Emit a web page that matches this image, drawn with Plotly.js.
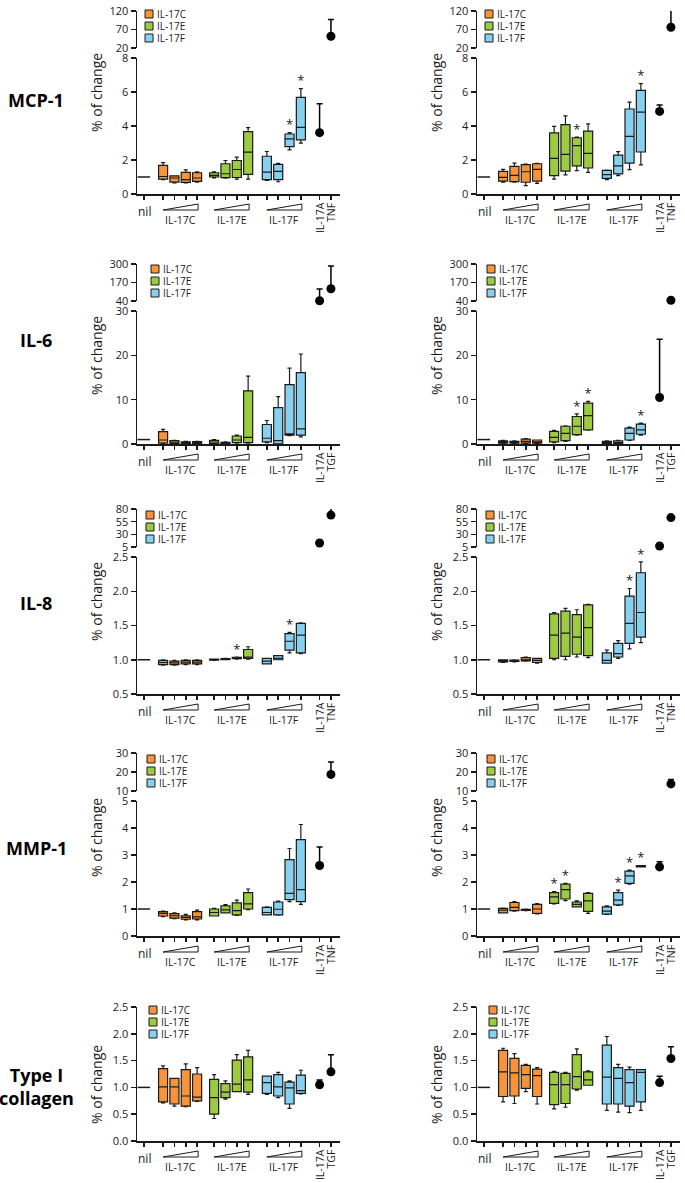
<!DOCTYPE html>
<html><head><meta charset="utf-8">
<script src="https://cdn.plot.ly/plotly-3.0.1.min.js"></script>
<style>html,body{margin:0;padding:0;background:#fff}#chart{width:685px;height:1183px}</style>
</head><body><div id="chart"></div>
<script>
// ================= DATA =================
const analytes = ['MCP-1', 'IL-6', 'IL-8', 'MMP-1', 'Type I<br>collagen'];
const stimuli = ['IL-17C', 'IL-17E', 'IL-17F'];
const nilLabel = 'nil';
const refLabels = [['IL-17A', 'TNF'], ['IL-17A', 'TGF'], ['IL-17A', 'TNF'], ['IL-17A', 'TNF'], ['IL-17A', 'TGF']];
const yTitle = '% of change';
const nilValue = 1;

// Box stats, 4 doses of IL-17C, then IL-17E, then IL-17F: [low whisker, Q1, median, Q3, high whisker]
const mcp1Left = [
  [0.85,0.88,1.03,1.68,1.85],[0.66,0.70,0.94,1.07,1.07],[0.66,0.68,0.84,1.27,1.42],[0.70,0.74,0.94,1.25,1.30],
  [0.95,1.00,1.10,1.25,1.30],[0.93,0.96,1.19,1.78,1.97],[0.88,0.97,1.44,1.97,2.17],[0.88,1.15,2.46,3.67,3.90],
  [0.80,0.84,1.29,2.22,2.50],[0.72,0.84,1.33,1.74,1.81],[2.60,2.79,3.24,3.53,3.61],[2.99,3.18,3.92,5.68,6.20]];
const mcp1Right = [
  [0.69,0.76,0.98,1.33,1.45],[0.69,0.73,1.10,1.63,1.82],[0.49,0.69,1.31,1.73,1.76],[0.63,0.76,1.45,1.78,1.80],
  [0.88,1.08,2.10,3.59,3.98],[1.12,1.35,2.33,4.08,4.59],[1.37,1.65,2.84,3.31,3.35],[1.27,1.53,2.39,3.70,4.12],
  [0.85,0.92,1.14,1.39,1.41],[1.08,1.18,1.66,2.29,2.49],[1.43,1.82,3.39,5.00,5.41],[1.71,2.47,4.82,6.09,6.49]];
const il6Left = [
  [0.10,0.20,0.90,2.80,3.30],[0.10,0.10,0.40,0.75,0.85],[0.05,0.10,0.35,0.50,0.60],[0.05,0.10,0.35,0.55,0.60],
  [0.05,0.10,0.45,0.80,1.00],[0.02,0.05,0.20,0.40,0.50],[0.20,0.30,0.90,1.80,2.00],[0.20,0.30,1.50,12.0,15.3],
  [0.30,0.50,1.30,4.40,5.30],[0.00,0.05,0.75,8.20,10.7],[1.90,2.00,2.30,13.4,17.1],[1.60,2.00,3.40,16.1,20.3]];
const il6Right = [
  [0.10,0.20,0.40,0.70,0.80],[0.10,0.20,0.40,0.60,0.70],[0.10,0.20,0.60,1.10,1.20],[0.10,0.20,0.50,0.90,0.90],
  [0.30,0.50,1.50,2.85,3.10],[0.60,0.75,2.40,4.00,4.10],[2.00,2.10,4.00,6.20,6.80],[3.10,3.20,6.40,9.20,9.60],
  [0.05,0.10,0.30,0.60,0.70],[0.05,0.10,0.30,0.70,0.80],[0.80,0.90,2.40,3.60,3.80],[2.00,2.20,3.20,4.50,4.70]];
const il8Left = [
  [0.92,0.93,0.960,0.99,1.00],[0.92,0.93,0.955,0.98,0.99],[0.93,0.94,0.965,0.99,1.00],[0.93,0.94,0.965,0.99,1.00],
  [0.99,0.995,1.000,1.010,1.01],[1.00,1.00,1.008,1.015,1.02],[1.01,1.015,1.025,1.035,1.04],[1.01,1.02,1.04,1.15,1.19],
  [0.94,0.94,0.98,1.02,1.02],[1.00,1.00,1.02,1.06,1.06],[1.10,1.14,1.27,1.38,1.40],[1.09,1.10,1.36,1.53,1.54]];
const il8Right = [
  [0.96,0.97,0.985,1.00,1.00],[0.97,0.975,0.985,0.995,1.00],[0.98,0.985,1.00,1.03,1.04],[0.95,0.96,0.99,1.02,1.02],
  [1.00,1.02,1.36,1.67,1.69],[1.00,1.05,1.39,1.71,1.75],[1.04,1.08,1.33,1.66,1.73],[1.03,1.06,1.47,1.80,1.81],
  [0.95,0.95,0.99,1.10,1.14],[1.02,1.04,1.09,1.24,1.28],[1.16,1.24,1.53,1.93,2.04],[1.25,1.33,1.69,2.27,2.43]];
const mmp1Left = [
  [0.72,0.74,0.84,0.90,0.92],[0.64,0.66,0.75,0.83,0.86],[0.60,0.62,0.69,0.75,0.80],[0.60,0.63,0.71,0.90,0.96],
  [0.74,0.74,0.87,1.00,1.02],[0.86,0.86,0.97,1.12,1.16],[0.76,0.78,0.94,1.23,1.33],[0.98,1.00,1.19,1.61,1.74],
  [0.78,0.78,0.87,1.06,1.08],[0.77,0.78,0.99,1.26,1.29],[1.27,1.35,1.58,2.83,3.24],[1.17,1.27,1.72,3.57,4.13]];
const mmp1Right = [
  [0.86,0.86,0.96,1.02,1.03],[0.92,0.94,1.06,1.24,1.27],[0.94,0.95,0.97,0.99,1.00],[0.82,0.84,1.00,1.17,1.20],
  [1.19,1.21,1.45,1.61,1.64],[1.31,1.37,1.72,1.92,1.95],[1.08,1.08,1.17,1.26,1.30],[0.84,0.91,1.30,1.58,1.61],
  [0.80,0.81,0.92,1.08,1.12],[1.13,1.15,1.33,1.61,1.70],[1.92,1.95,2.23,2.40,2.44],[2.56,2.56,2.58,2.61,2.61]];
const collagenLeft = [
  [0.71,0.73,1.01,1.35,1.40],[0.65,0.69,1.01,1.17,1.17],[0.64,0.65,0.84,1.33,1.44],[0.74,0.75,0.82,1.25,1.37],
  [0.42,0.50,0.81,1.15,1.24],[0.78,0.81,0.91,1.07,1.12],[0.92,0.92,1.06,1.51,1.61],[0.87,0.91,1.14,1.57,1.69],
  [0.87,0.89,1.09,1.21,1.21],[0.81,0.84,1.01,1.24,1.28],[0.61,0.69,0.99,1.10,1.12],[0.88,0.89,0.94,1.23,1.32]];
const collagenRight = [
  [0.73,0.83,1.29,1.69,1.73],[0.70,0.84,1.27,1.54,1.63],[0.92,0.98,1.24,1.41,1.43],[0.69,0.83,1.22,1.34,1.37],
  [0.60,0.68,1.05,1.28,1.30],[0.63,0.70,1.05,1.26,1.28],[0.95,0.97,1.20,1.61,1.72],[1.04,1.04,1.14,1.29,1.31],
  [0.57,0.69,1.19,1.79,1.95],[0.54,0.69,1.17,1.37,1.43],[0.53,0.65,1.09,1.33,1.38],[0.57,0.73,1.28,1.33,1.33]];

// Reference stimuli (IL-17A, TNF/TGF): [mean, top of error bar]
const mcp1LeftRef = [[3.61, 5.31], [51.8, 97]];
const mcp1RightRef = [[4.86, 5.24], [76, 128]];
const il6LeftRef = [[42, 124], [126, 286]];
const il6RightRef = [[10.5, 23.6], [45, 45]];
const il8LeftRef = [[13, 13], [68, 90]];
const il8RightRef = [[7, 7], [63, 63]];
const mmp1LeftRef = [[2.61, 3.3], [18.75, 25.2]];
const mmp1RightRef = [[2.56, 2.75], [13.75, 16]];
const collagenLeftRef = [[1.05, 1.14], [1.29, 1.61]];
const collagenRightRef = [[1.09, 1.21], [1.54, 1.76]];

// Boxes marked significant (*) — index 0..11
const mcp1LeftStars = [10, 11];
const mcp1RightStars = [6, 11];
const il6LeftStars = [];
const il6RightStars = [6, 7, 11];
const il8LeftStars = [6, 10];
const il8RightStars = [10, 11];
const mmp1LeftStars = [];
const mmp1RightStars = [4, 5, 9, 10, 11];
const collagenLeftStars = [];
const collagenRightStars = [];

// Axis scales per analyte (lower segment, upper broken segment)
const lowerRanges = [[0, 8], [0, 30], [0.5, 2.5], [0, 5], [0, 2.5]];
const lowerTicks = [[0, 2, 4, 6, 8], [0, 10, 20, 30], [0.5, 1.0, 1.5, 2.0, 2.5], [0, 1, 2, 3, 4, 5], [0, 0.5, 1.0, 1.5, 2.0, 2.5]];
const upperRanges = [[20, 120], [40, 300], [5, 80], [10, 30], null];
const upperTicks = [[20, 70, 120], [40, 170, 300], [5, 30, 55, 80], [10, 20, 30], null];

// ================= LAYOUT / STYLE =================
const W = 685, H = 1183;
const FONT = 'Open Sans, Noto Sans, DejaVu Sans, sans-serif';
const INK = '#1a1a1a';
const colors = ['#F7943A', '#9CCA40', '#88D0F0'];
const xMin = -0.6, xMax = 17.3;
const groupStart = [1.7, 6.2, 10.85];
const refPos = [15.5, 16.5];
const cols = [{ x0: 137, x1: 340 }, { x0: 477, x1: 680 }];
const rowGeom = [
  { axisY: 194, lowerTop: 58, upperTop: 11, upperBot: 48, fmt: '', labelY: 100, titleY: 93, legY: 14 },
  { axisY: 444, lowerTop: 311, upperTop: 264, upperBot: 301, fmt: '', labelY: 340, titleY: 356, legY: 269 },
  { axisY: 694, lowerTop: 557, upperTop: 509, upperBot: 547, fmt: '.1f', labelY: 603, titleY: 602, legY: 515 },
  { axisY: 936, lowerTop: 801, upperTop: 753, upperBot: 791, fmt: '', labelY: 848, titleY: 838, legY: 759 },
  { axisY: 1141, lowerTop: 1007, fmt: '.1f', labelY: 1086, titleY: 1085, legY: 1010 }
];
const legX = [[145, 485], [151, 487], [146, 486], [147, 487], [149, 489]];

const panelBoxes = [mcp1Left, mcp1Right, il6Left, il6Right, il8Left, il8Right, mmp1Left, mmp1Right, collagenLeft, collagenRight];
const panelRefs = [mcp1LeftRef, mcp1RightRef, il6LeftRef, il6RightRef, il8LeftRef, il8RightRef, mmp1LeftRef, mmp1RightRef, collagenLeftRef, collagenRightRef];
const panelStars = [mcp1LeftStars, mcp1RightStars, il6LeftStars, il6RightStars, il8LeftStars, il8RightStars, mmp1LeftStars, mmp1RightStars, collagenLeftStars, collagenRightStars];

const boxX = i => groupStart[Math.floor(i / 4)] + (i % 4);
const allTicks = [0].concat([...Array(12).keys()].map(boxX)).concat(refPos);
const px = x => x / W, py = y => 1 - y / H;
const id = (l, n) => n === 1 ? l : l + n;

const traces = [], shapes = [], annotations = [];
const layout = {
  width: W, height: H, margin: { l: 0, r: 0, t: 0, b: 0 },
  paper_bgcolor: '#fff', plot_bgcolor: 'rgba(0,0,0,0)', showlegend: false,
  font: { family: FONT, color: INK, size: 11 }, boxmode: 'overlay',
  shapes, annotations
};
const axisCommon = {
  showline: true, linewidth: 1.5, linecolor: INK, ticks: 'outside', tickwidth: 1.5, tickcolor: INK,
  showgrid: false, zeroline: false, fixedrange: true, tickfont: { family: FONT, size: 11, color: INK }
};

panelBoxes.forEach((boxes, p) => {
  const r = Math.floor(p / 2), c = p % 2;
  const G = rowGeom[r], C = cols[c];
  const xs = id('x', p + 1), yLo = id('y', 2 * p + 1), yUp = id('y', 2 * p + 2);
  const toPx = x => C.x0 + (x - xMin) / (xMax - xMin) * (C.x1 - C.x0);
  layout[id('xaxis', p + 1)] = Object.assign({}, axisCommon, {
    domain: [px(C.x0), px(C.x1)], range: [xMin, xMax], anchor: yLo,
    tickvals: allTicks, showticklabels: false, ticklen: 4
  });
  layout[id('yaxis', 2 * p + 1)] = Object.assign({}, axisCommon, {
    domain: [py(G.axisY), py(G.lowerTop)], range: lowerRanges[r], anchor: xs,
    tickvals: lowerTicks[r], tickformat: G.fmt, ticklen: 5
  });
  if (upperRanges[r]) {
    layout[id('yaxis', 2 * p + 2)] = Object.assign({}, axisCommon, {
      domain: [py(G.upperBot), py(G.upperTop)], range: upperRanges[r], anchor: xs,
      tickvals: upperTicks[r], ticklen: 5
    });
  }
  // boxes
  stimuli.forEach((s, si) => {
    const rowsS = boxes.slice(si * 4, si * 4 + 4);
    traces.push({
      type: 'box', name: s, xaxis: xs, yaxis: yLo,
      x: [0, 1, 2, 3].map(k => boxX(si * 4 + k)),
      lowerfence: rowsS.map(b => b[0]), q1: rowsS.map(b => b[1]), median: rowsS.map(b => b[2]),
      q3: rowsS.map(b => b[3]), upperfence: rowsS.map(b => b[4]),
      width: 0.8, whiskerwidth: 0.45, boxpoints: false,
      fillcolor: colors[si], line: { color: INK, width: 1.2 }, hoverinfo: 'skip'
    });
  });
  // nil dash
  traces.push({
    type: 'scatter', mode: 'markers', xaxis: xs, yaxis: yLo, x: [0], y: [nilValue],
    marker: { symbol: 'line-ew', size: 9, line: { width: 1.5, color: INK } }, hoverinfo: 'skip'
  });
  // reference stimuli
  panelRefs[p].forEach((d, k) => {
    const onUpper = upperRanges[r] && d[0] > lowerRanges[r][1];
    const err = d[1] - d[0];
    traces.push({
      type: 'scatter', mode: 'markers', xaxis: xs, yaxis: onUpper ? yUp : yLo,
      x: [refPos[k]], y: [d[0]], cliponaxis: false,
      marker: { size: 9, color: '#000' },
      error_y: { type: 'data', symmetric: false, array: [err], arrayminus: [0], visible: err > 0,
                 width: 3, thickness: 1.5, color: '#000' },
      hoverinfo: 'skip'
    });
  });
  // significance stars
  const st = panelStars[p];
  if (st.length) {
    traces.push({
      type: 'scatter', mode: 'text', xaxis: xs, yaxis: yLo, cliponaxis: false,
      x: st.map(boxX), y: st.map(i => boxes[i][4]), text: st.map(() => '*'),
      textposition: 'top center', textfont: { family: FONT, size: 13, color: INK }, hoverinfo: 'skip'
    });
  }
  // x labels
  annotations.push({ xref: 'paper', yref: 'paper', x: px(toPx(0) + 1), y: py(G.axisY + 17), text: nilLabel,
    showarrow: false, xanchor: 'center', yanchor: 'middle', font: { family: FONT, size: 12, color: INK } });
  stimuli.forEach((s, si) => {
    const a = toPx(boxX(si * 4)), b = toPx(boxX(si * 4 + 3)) + 1;
    shapes.push({ type: 'path', xref: 'paper', yref: 'paper',
      path: `M ${px(a)},${py(G.axisY + 16)} L ${px(b)},${py(G.axisY + 16)} L ${px(b)},${py(G.axisY + 10)} Z`,
      line: { color: INK, width: 1 }, fillcolor: 'rgba(0,0,0,0)' });
    annotations.push({ xref: 'paper', yref: 'paper', x: px((a + b) / 2), y: py(G.axisY + 26), text: s,
      showarrow: false, xanchor: 'center', yanchor: 'middle', font: { family: FONT, size: 10.5, color: INK } });
  });
  refLabels[r].forEach((t, k) => {
    annotations.push({ xref: 'paper', yref: 'paper', x: px(toPx(refPos[k])), y: py(G.axisY + 6), text: t,
      textangle: -90, showarrow: false, xanchor: 'center', yanchor: 'top', font: { family: FONT, size: 10.5, color: INK } });
  });
  // y title
  annotations.push({ xref: 'paper', yref: 'paper', x: px(c === 0 ? 96 : 436), y: py(G.titleY), text: yTitle,
    textangle: -90, showarrow: false, xanchor: 'center', yanchor: 'middle', font: { family: FONT, size: 14, color: INK } });
  // legend
  stimuli.forEach((s, si) => {
    const lx = legX[r][c], cy = G.legY + si * 12;
    shapes.push({ type: 'rect', xref: 'paper', yref: 'paper', x0: px(lx), x1: px(lx + 8), y0: py(cy - 4), y1: py(cy + 4),
      fillcolor: colors[si], line: { color: INK, width: 1 } });
    annotations.push({ xref: 'paper', yref: 'paper', x: px(lx + 10), y: py(cy), text: s, showarrow: false,
      xanchor: 'left', yanchor: 'middle', font: { family: FONT, size: 10, color: INK } });
  });
  // row label
  if (c === 0) {
    annotations.push({ xref: 'paper', yref: 'paper', x: px(36), y: py(G.labelY), text: '<b>' + analytes[r] + '</b>',
      showarrow: false, xanchor: 'center', yanchor: 'middle', align: 'center', font: { family: FONT, size: 18, color: '#000' } });
  }
});

Plotly.newPlot('chart', traces, layout, { staticPlot: true, displayModeBar: false });
</script>
</body></html>
